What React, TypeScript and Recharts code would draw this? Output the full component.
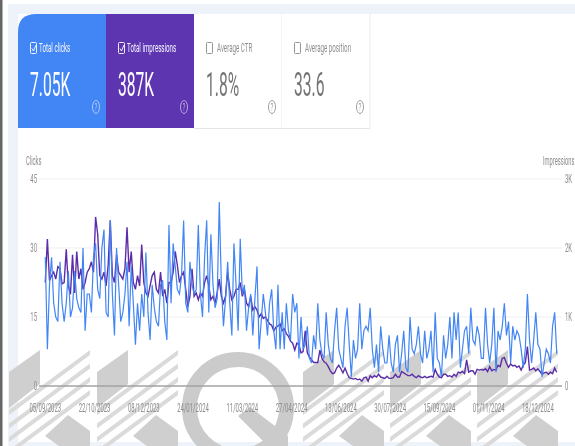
import React from "react";
import { LineChart, Line, XAxis, YAxis, CartesianGrid } from "recharts";

const clickValues = [
  28,8,22,28,18,15,14,27,18,14, 18,25,15,17,25,19,17,16,30,12,
  20,20,16,28,31,21,19,30,34,16, 15,36,20,11,30,22,14,16,20,27,
  13,26,18,9,18,12,20,15,29,16, 10,22,17,14,13,22,23,14,10,35,
  18,31,26,21,20,24,36,18,16,27, 22,20,21,35,20,15,28,36,16,33,
  22,17,19,40,22,13,19,27,18,11, 31,22,12,32,20,22,12,17,20,11,
  19,26,8,14,20,16,11,18,21,12, 8,22,8,16,8,18,12,10,20,16,
  18,6,15,8,9,13,6,5,11,8, 18,10,7,6,16,9,6,5,12,17,
  8,6,4,13,17,9,2,10,6,8, 18,8,12,13,12,17,8,4,9,3,
  13,8,5,5,11,5,3,9,11,3, 7,12,4,3,15,8,7,9,13,7,
  5,12,6,8,12,3,16,6,5,2, 11,6,9,15,6,16,10,16,4,8,
  12,13,7,17,10,9,13,11,6,6, 17,9,5,9,17,3,12,10,13,18,
  11,14,5,13,10,12,11,8,4,8, 20,10,5,10,16,9,8,2,5,8,
  7,5,13,16,7,
];

const impressionValues = [
  1500,2130,1530,1600,1650,1550,1730,1700,1480,1500,
  1980,1450,1330,1900,1350,1950,1550,1700,1400,1500,
  1650,1700,1800,1650,2450,2200,1600,1550,1650,1450,
  1750,2400,1600,1500,1900,1650,1600,1550,1700,2300,
  1650,1950,1500,1400,1600,1450,2050,1500,1350,1300,
  1450,1600,1650,1400,1350,1650,1300,1400,1200,1500,
  1500,1650,1950,1750,1500,1600,1650,1400,1150,1300,
  1700,1300,1350,1250,1350,1300,1500,1600,1450,1250,
  1300,1200,1350,1550,1300,1200,1300,1650,1400,1250,
  1300,1400,1400,1500,1300,1400,1200,1150,1300,1100,
  1150,1100,1000,1050,980,1000,950,900,880,800,
  850,870,900,800,830,760,720,650,620,520,
  620,600,480,500,800,480,420,380,340,340,
  340,520,400,350,330,280,220,180,190,260,
  300,250,190,260,180,120,110,100,110,90,
  100,70,120,130,70,150,120,150,130,170,
  130,120,110,140,110,110,120,170,130,130,
  210,190,170,150,150,170,140,120,150,130,
  120,140,120,130,140,130,240,170,130,120,
  170,170,140,150,130,170,140,200,190,210,
  180,380,200,220,220,170,240,230,240,230,
  250,210,280,220,240,230,300,280,400,410,
  330,270,320,290,300,270,290,230,300,340,
  570,230,240,260,220,250,210,170,190,200,
  170,200,180,260,200,
];

const DAYS_PER_POINT = 2;
const dateTickDays = [0, 47, 94, 141, 188, 235, 282, 329, 376, 423, 470];
const dateTickLabels = [
  "05/09/2023","22/10/2023","08/12/2023","24/01/2024","11/03/2024","27/04/2024",
  "13/06/2024","30/07/2024","15/09/2024","01/11/2024","18/12/2024",
];
const clickTicks = [0, 15, 30, 45];
const impressionTicks = [0, 1000, 2000, 3000];
const impressionTickLabels = ["0", "1K", "2K", "3K"];

const cardTitles = ["Total clicks", "Total impressions", "Average CTR", "Average position"];
const cardValues = ["7.05K", "387K", "1.8%", "33.6"];
const cardFills = ["#4285f4", "#5e35b1", "#ffffff", "#ffffff"];
const cardChecked = [true, true, false, false];

const rows = clickValues.map((clicks, i) => ({
  day: i * DAYS_PER_POINT,
  clicks,
  impressions: impressionValues[i],
}));

const FONT = "Roboto, sans-serif";
const GREY = "#8d8d8d";
const SQUEEZE = 0.46;

function SqText({ x, y, size, fill, anchor = "start", children }: any) {
  return (
    <g transform={`translate(${x} ${y}) scale(${SQUEEZE} 1)`}>
      <text x={0} y={0} fontSize={size} fontFamily={FONT} fill={fill} textAnchor={anchor}>
        {children}
      </text>
    </g>
  );
}

function Card({ index }: { index: number }) {
  const x = 18 + index * 88;
  const colored = index < 2;
  const ink = colored ? "#ffffff" : "#8a8a8a";
  const checked = cardChecked[index];
  return (
    <g fontFamily={FONT}>
      {index === 0 ? (
        <path d={`M18 128 V32 Q18 14 36 14 H106 V128 Z`} fill={cardFills[0]} />
      ) : (
        <rect x={x} y={14} width={88} height={114} fill={cardFills[index]} />
      )}
      {!colored && <line x1={x + 88} y1={14} x2={x + 88} y2={128} stroke="#ececec" />}
      {!colored && <line x1={x} y1={128.5} x2={x + 88} y2={128.5} stroke="#e4e4e4" />}
      <rect x={x + 12.5} y={42.5} width={6} height={11} rx={1} fill="none" stroke={ink} strokeWidth={0.9} />
      {checked && <path d={`M${x + 14} 48.5 l1.5 2.5 l2.5 -6`} fill="none" stroke={ink} strokeWidth={0.9} />}
      <SqText x={x + (colored ? 21 : 23)} y={52} size={13.5} fill={colored ? "#f4f6ff" : "#8f8f8f"}>
        {cardTitles[index]}
      </SqText>
      <SqText x={x + 12} y={96} size={34} fill={colored ? "#ffffff" : "#757575"}>
        {cardValues[index]}
      </SqText>
      <ellipse cx={x + 78} cy={107} rx={3.5} ry={6.5} fill="none" stroke={colored ? "rgba(255,255,255,0.55)" : "#a0a0a0"} strokeWidth={1} />
      <SqText x={x + 78} y={110.5} size={11} anchor="middle" fill={colored ? "rgba(255,255,255,0.6)" : "#9a9a9a"}>
        ?
      </SqText>
    </g>
  );
}

function Backdrop() {
  const kOrigins = [9, 97, 303, 390, 477];
  return (
    <svg width={575} height={446} style={{ position: "absolute", left: 0, top: 0 }}>
      <rect width={575} height={446} fill="#ffffff" />
      <rect x={8} y={4} width={567} height={442} fill="#eef3f9" />
      <rect x={18} y={14} width={557} height={428} fill="#ffffff" />
      <rect x={0} y={0} width={2.5} height={446} fill="#666666" />
      {kOrigins.map((x0) => (
        <g key={x0}>
          <polygon points={`${x0},372 ${x0 + 31},350 ${x0 + 31},384 ${x0},408`} fill="#cfcfcf" />
          {[0, 13.5, 27, 40].map((dy) => (
            <polygon
              key={dy}
              points={`${x0},${410 + dy} ${x0 + 81},${350 + dy} ${x0 + 81},${355 + dy} ${x0},${415 + dy}`}
              fill="#dadada"
            />
          ))}
          <polygon points={`${x0 + 36},436 ${x0 + 59},415 ${x0 + 81},431 ${x0 + 81},446 ${x0 + 50},446`} fill="#cfcfcf" />
        </g>
      ))}
      <circle cx={238} cy={408} r={48.5} fill="none" stroke="#cbcbcb" strokeWidth={15} />
      <polygon points="238,416 250,407 288,436 288,446 268,446" fill="#cbcbcb" />
    </svg>
  );
}

function LeftTick(props: any) {
  return (
    <SqText x={props.x + 6} y={props.y + 4} size={13} anchor="end" fill={GREY}>
      {String(props.payload.value)}
    </SqText>
  );
}

function RightTick(props: any) {
  const i = impressionTicks.indexOf(props.payload.value);
  return (
    <SqText x={props.x - 5} y={props.y + 4} size={13} fill={GREY}>
      {impressionTickLabels[i]}
    </SqText>
  );
}

function DateTick(props: any) {
  const i = dateTickDays.indexOf(props.payload.value);
  return (
    <SqText x={props.x} y={412} size={13} anchor="middle" fill={GREY}>
      {dateTickLabels[i]}
    </SqText>
  );
}

export default function App() {
  return (
    <div style={{ position: "absolute", left: 0, top: 0, width: 575, height: 446, overflow: "hidden", filter: "blur(0.45px)" }}>
      <Backdrop />
      <svg width={575} height={446} style={{ position: "absolute", left: 0, top: 0 }}>
        {cardTitles.map((_, i) => (
          <Card key={i} index={i} />
        ))}
        <SqText x={26} y={165} size={12.5} fill={GREY}>Clicks</SqText>
        <SqText x={543} y={165} size={12.5} fill={GREY}>Impressions</SqText>
      </svg>
      <div style={{ position: "absolute", left: 0, top: 0 }}>
        <LineChart width={575} height={446} data={rows} margin={{ top: 179, right: 0, bottom: 0, left: 0 }}>
          <CartesianGrid horizontal vertical={false} stroke="#efefef" yAxisId="clicks" />
          <XAxis
            dataKey="day"
            type="number"
            domain={[-6, 493]}
            ticks={dateTickDays}
            interval={0}
            height={60}
            tickLine={false}
            axisLine={{ stroke: "#7d7d7d", strokeWidth: 1 }}
            tick={DateTick}
          />
          <YAxis
            yAxisId="clicks"
            orientation="left"
            width={39}
            domain={[0, 45]}
            ticks={clickTicks}
            interval={0}
            tickLine={false}
            axisLine={false}
            tick={LeftTick}
          />
          <YAxis
            yAxisId="impressions"
            orientation="right"
            width={13}
            domain={[0, 3000]}
            ticks={impressionTicks}
            interval={0}
            tickLine={false}
            axisLine={false}
            tick={RightTick}
          />
          <Line yAxisId="impressions" dataKey="impressions" stroke="#5b2da8" strokeWidth={1.4} dot={false} isAnimationActive={false} />
          <Line yAxisId="clicks" dataKey="clicks" stroke="#4285f4" strokeWidth={1.2} dot={false} isAnimationActive={false} />
        </LineChart>
      </div>
    </div>
  );
}
